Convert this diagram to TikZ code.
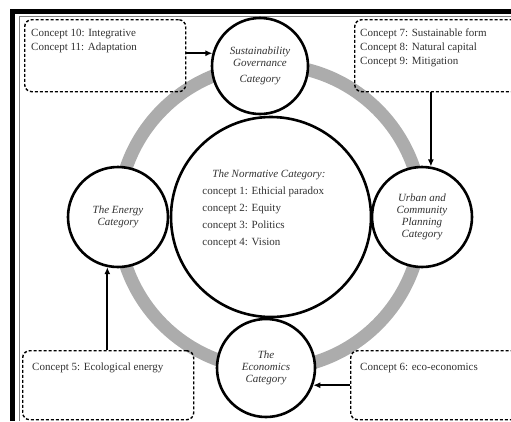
\documentclass[tikz,border=0pt]{standalone}
\usepackage{fontspec}
\setmainfont{Liberation Serif}
\usetikzlibrary{arrows.meta}
\definecolor{ringgray}{RGB}{172,172,172}
\definecolor{txtgray}{RGB}{50,50,50}

\begin{document}
\begin{tikzpicture}[x=1pt, y=-1pt,
    cat/.style={circle, draw, line width=2.6pt, fill=white, inner sep=0pt, align=center,
        font=\fontsize{11}{12}\selectfont\itshape, text=txtgray},
    conbox/.style={draw, dash pattern=on 3pt off 2pt, line width=1.4pt, rounded corners=7pt, anchor=north west},
    contxt/.style={anchor=north west, inner sep=0pt, align=left, font=\fontsize{11}{14}\selectfont, text=txtgray},
    arr/.style={-{Latex[length=7pt,width=6pt]}, line width=2.1pt}]

    \useasboundingbox (0,0) rectangle (511,421);
    \clip (0,0) rectangle (511,421);
    \fill[white] (0,0) rectangle (511,421);

    % Frame
    \draw[line width=4.5pt] (12.5,421) -- (12.5,11.5) -- (511,11.5);
    \draw[gray, line width=0.6pt] (19,421) -- (19,16.5) -- (511,16.5);

    % Gray ring
    \draw[ringgray, line width=13pt] (270,217) circle[radius=152];

    % Categories
    \node[cat, minimum size=200pt] (norm) at (271,217) {};
    \node[align=left, font=\fontsize{11}{17}\selectfont, text=txtgray] (normtxt)
        at ([xshift=-7pt, yshift=8pt]norm.center)
        {\hspace*{10pt}\textit{The Normative Category:}\\
         concept 1: Ethicial paradox\\
         concept 2: Equity\\
         concept 3: Politics\\
         concept 4: Vision};
    \node[cat, minimum size=96pt] (gov) at (260,66) {Sustainability\\Governance\\[4pt]Category};
    \node[cat, minimum size=100pt] (energy) at (118,217) {The Energy\\Category};
    \node[cat, minimum size=100pt] (urban) at (422,217) {Urban and\\Community\\Planning\\Category};
    \node[cat, minimum size=98pt] (econ) at (266,368) {The\\Economics\\Category};

    % Concept boxes
    \node[conbox, minimum width=161pt, minimum height=72pt] (tlbox) at (24,19) {};
    \node[contxt] (tltxt) at ([xshift=7pt, yshift=-10pt]tlbox.north west)
        {Concept 10: Integrative\\Concept 11: Adaptation};

    \node[conbox, minimum width=180pt, minimum height=72pt] (trbox) at (354,19) {};
    \node[contxt] (trtxt) at ([xshift=6pt, yshift=-10pt]trbox.north west)
        {Concept 7: Sustainable form\\Concept 8: Natural capital\\Concept 9: Mitigation};

    \node[conbox, minimum width=171pt, minimum height=69pt] (blbox) at (22,350) {};
    \node[contxt] (bltxt) at ([xshift=10pt, yshift=-13pt]blbox.north west)
        {Concept 5: Ecological energy};

    \node[conbox, minimum width=180pt, minimum height=69pt] (brbox) at (350,350) {};
    \node[contxt] (brtxt) at ([xshift=10pt, yshift=-13pt]brbox.north west)
        {Concept 6: eco-economics};

    % Arrows
    \draw[arr] (tlbox.east |- gov.165) -- (gov.165);
    \draw[arr] (trbox.south -| urban.80) -- (urban.80);
    \draw[arr] (blbox.north -| energy.258) -- (energy.258);
    \draw[arr] (brbox.west |- econ.340) -- (econ.340);
\end{tikzpicture}
\end{document}
